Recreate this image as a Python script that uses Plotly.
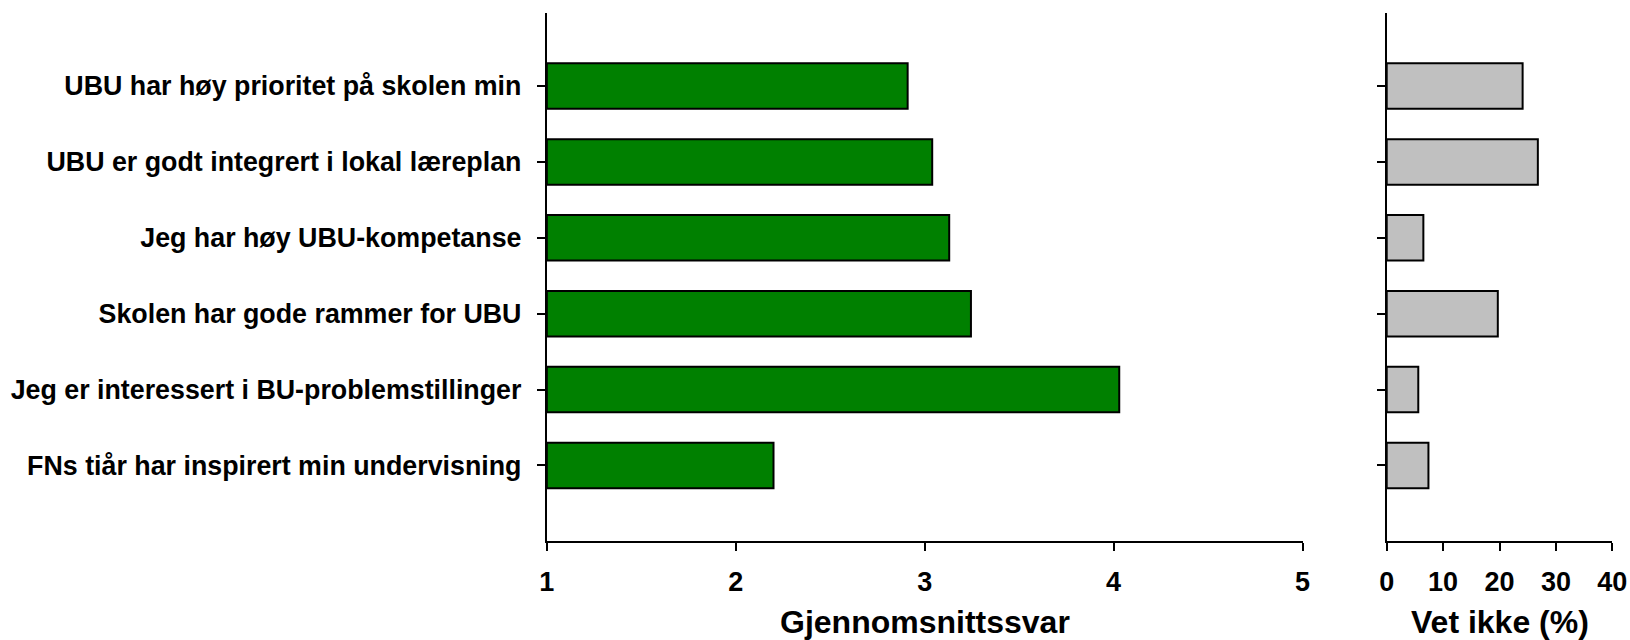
import plotly.graph_objects as go

categories = [
    "UBU har høy prioritet på skolen min",
    "UBU er godt integrert i lokal læreplan",
    "Jeg har høy UBU-kompetanse",
    "Skolen har gode rammer for UBU",
    "Jeg er interessert i BU-problemstillinger",
    "FNs tiår har inspirert min undervisning",
]
mean_answer = [2.91, 3.04, 3.13, 3.245, 4.03, 2.20]
dont_know_pct = [24.1, 26.8, 6.5, 19.7, 5.6, 7.4]
x1_ticks = [1, 2, 3, 4, 5]
x2_ticks = [0, 10, 20, 30, 40]

W, H = 1630, 640
font_family = "Liberation Sans, Arial, sans-serif"

def px(x):
    return x / W

def py(y):
    return (H - y) / H

fig = go.Figure()
fig.add_trace(go.Bar(
    y=categories, x=[v - 1 for v in mean_answer], base=1, orientation="h",
    marker=dict(color="#008000", line=dict(color="black", width=2)),
    width=0.6, xaxis="x", yaxis="y", showlegend=False,
))
fig.add_trace(go.Bar(
    y=categories, x=dont_know_pct, orientation="h",
    marker=dict(color="#C0C0C0", line=dict(color="black", width=2)),
    width=0.6, xaxis="x2", yaxis="y2", showlegend=False,
))

ydom = [py(540.5), py(12.5)]
yrange = [5.99, -0.97]
axis_common = dict(showgrid=False, zeroline=False, showline=True, linecolor="black",
                   linewidth=2, ticks="outside", tickcolor="black", tickwidth=1.5, ticklen=8,
                   automargin=False)

fig.update_layout(
    width=W, height=H,
    margin=dict(l=0, r=0, t=0, b=0),
    paper_bgcolor="white", plot_bgcolor="white",
    font=dict(family=font_family, color="black"),
    bargap=0.4,
    xaxis=dict(domain=[px(546.8), px(1302.5)], range=[1, 5], tickvals=x1_ticks,
               tickfont=dict(size=27, family=font_family, weight="bold"),
               ticklabelstandoff=8, anchor="y", **axis_common),
    yaxis=dict(domain=ydom, range=yrange, type="category",
               tickfont=dict(size=26.8, family=font_family, weight="bold"),
               ticklabelstandoff=10, anchor="x", **axis_common),
    xaxis2=dict(domain=[px(1386.7), px(1612.3)], range=[0, 40], tickvals=x2_ticks,
                tickfont=dict(size=27, family=font_family, weight="bold"),
                ticklabelstandoff=8, anchor="y2", **axis_common),
    yaxis2=dict(domain=ydom, range=yrange, type="category", showticklabels=False,
                anchor="x2", **axis_common),
)

fig.add_annotation(text="<b>Gjennomsnittssvar</b>", x=px(925), y=py(622),
                   xref="paper", yref="paper", showarrow=False, xanchor="center",
                   font=dict(size=32, family=font_family, color="black"), yanchor="middle")
fig.add_annotation(text="<b>Vet ikke (%)</b>", x=px(1500), y=py(622),
                   xref="paper", yref="paper", showarrow=False, xanchor="center",
                   font=dict(size=32, family=font_family, color="black"), yanchor="middle")

fig.write_html(
    "out.html",
    config={"displayModeBar": False},
    post_script="document.body.style.margin='0';document.body.style.overflow='hidden';",
)
